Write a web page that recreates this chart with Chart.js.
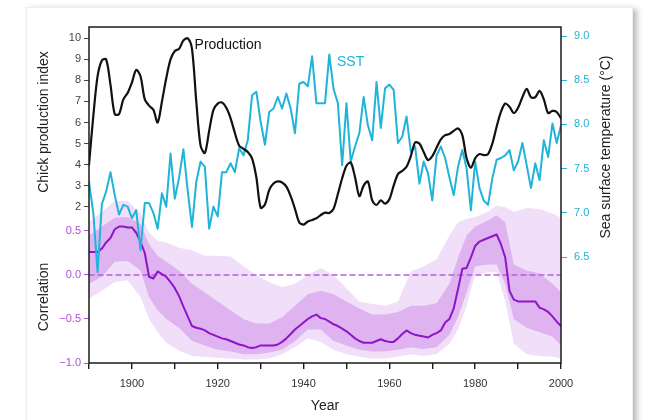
<!DOCTYPE html>
<html><head><meta charset="utf-8">
<script src="https://cdn.jsdelivr.net/npm/chart.js@4.4.0/dist/chart.umd.min.js"></script>
<style>
html,body{margin:0;padding:0;background:#fff;width:649px;height:420px;overflow:hidden;}
#card{position:absolute;left:26px;top:7px;width:605px;height:440px;background:#fff;border:1px solid #eeeeee;box-shadow:4px 2px 6px rgba(0,0,0,0.28);}
#c{position:absolute;left:0;top:0;}
</style></head><body>
<div id="card"></div>
<canvas id="c" width="649" height="420"></canvas>
<script>
const years = [1890,1891,1892,1893,1894,1895,1896,1897,1898,1899,
1900,1901,1902,1903,1904,1905,1906,1907,1908,1909,
1910,1911,1912,1913,1914,1915,1916,1917,1918,1919,
1920,1921,1922,1923,1924,1925,1926,1927,1928,1929,
1930,1931,1932,1933,1934,1935,1936,1937,1938,1939,
1940,1941,1942,1943,1944,1945,1946,1947,1948,1949,
1950,1951,1952,1953,1954,1955,1956,1957,1958,1959,
1960,1961,1962,1963,1964,1965,1966,1967,1968,1969,
1970,1971,1972,1973,1974,1975,1976,1977,1978,1979,
1980,1981,1982,1983,1984,1985,1986,1987,1988,1989,
1990,1991,1992,1993,1994,1995,1996,1997,1998,1999,2000];

const production = [4.0,6.3,8.2,8.95,9.0,7.8,6.4,6.4,7.1,7.4,
7.9,8.5,8.2,7.1,6.8,6.6,6.0,7.0,8.1,9.0,
9.4,9.5,9.9,10.0,9.5,7.0,4.9,4.55,5.6,6.6,
6.9,6.95,6.7,6.2,5.5,4.9,4.75,4.6,4.3,3.4,
1.95,2.1,2.8,3.1,3.2,3.15,2.95,2.5,1.9,1.25,
1.15,1.3,1.37,1.45,1.6,1.72,1.7,1.9,2.6,3.35,
3.95,4.1,3.4,2.5,3.0,3.2,2.3,2.08,2.3,2.15,
2.35,3.0,3.55,3.7,3.9,4.4,5.05,5.0,4.6,4.22,
4.4,4.8,5.2,5.4,5.45,5.6,5.72,5.4,4.3,3.85,
4.3,4.5,4.45,4.5,5.0,5.8,6.5,6.9,6.75,6.45,
6.7,7.2,7.6,7.2,7.2,7.5,7.1,6.45,6.55,6.5,6.2];

const sst = [7.35,7.0,6.33,7.1,7.24,7.46,7.2,6.98,7.09,7.07,
6.94,7.03,6.58,7.11,7.11,7.0,6.82,7.22,7.07,7.67,
7.16,7.4,7.72,7.25,6.84,7.35,7.58,7.52,6.82,7.07,
6.96,7.46,7.46,7.56,7.46,7.73,7.65,7.82,8.33,8.37,
8.03,7.77,8.14,8.18,8.31,8.18,8.35,8.18,7.9,8.46,
8.48,8.43,8.77,8.24,8.24,8.24,8.79,8.4,8.24,7.54,
8.24,7.58,7.75,7.9,8.31,7.99,7.82,8.48,7.96,8.41,
8.45,8.39,7.79,7.86,8.09,7.69,7.75,7.33,7.58,7.45,
7.14,7.65,7.75,7.62,7.4,7.2,7.52,7.71,7.5,7.03,
7.58,7.28,7.14,7.09,7.39,7.6,7.62,7.65,7.71,7.48,
7.58,7.79,7.54,7.28,7.56,7.37,7.82,7.63,8.01,7.79,7.99];

const correlation = [0.26,0.26,0.26,0.3,0.37,0.42,0.52,0.55,0.55,0.54,
0.54,0.48,0.38,0.25,-0.02,-0.04,0.04,0.01,-0.02,-0.08,
-0.15,-0.24,-0.36,-0.47,-0.58,-0.6,-0.61,-0.63,-0.66,-0.68,
-0.7,-0.72,-0.73,-0.75,-0.77,-0.79,-0.8,-0.82,-0.83,-0.82,
-0.8,-0.8,-0.8,-0.8,-0.79,-0.76,-0.72,-0.67,-0.62,-0.58,
-0.54,-0.5,-0.47,-0.45,-0.49,-0.5,-0.53,-0.56,-0.58,-0.61,
-0.64,-0.68,-0.72,-0.75,-0.77,-0.77,-0.77,-0.75,-0.73,-0.75,
-0.76,-0.76,-0.72,-0.67,-0.63,-0.66,-0.68,-0.69,-0.7,-0.71,
-0.68,-0.66,-0.63,-0.54,-0.5,-0.38,-0.16,0.07,0.08,0.2,
0.33,0.38,0.4,0.42,0.44,0.46,0.35,0.2,-0.18,-0.28,
-0.3,-0.3,-0.3,-0.3,-0.3,-0.37,-0.39,-0.42,-0.47,-0.53,-0.58];

const bandYears = [1890,1893,1896,1899,1902,1904,1906,1908,1911,1914,1917,1920,1923,1926,1929,1932,1935,1938,1941,1944,1947,1950,1953,1956,1959,1962,1965,1968,1971,1974,1976,1978,1980,1983,1985,1987,1989,1992,1995,1998,2000];
const corrOuterUpper = [0.6,0.72,0.84,0.84,0.7,0.48,0.39,0.37,0.31,0.28,0.22,0.22,0.21,0.1,0.0,-0.08,-0.14,-0.1,0.0,0.08,0.0,-0.15,-0.3,-0.33,-0.35,-0.3,0.04,0.1,0.18,0.45,0.6,0.64,0.66,0.72,0.79,0.77,0.72,0.76,0.75,0.7,0.65];
const corrInnerUpper = [0.45,0.55,0.65,0.66,0.58,0.35,0.22,0.15,0.05,-0.1,-0.2,-0.3,-0.4,-0.5,-0.55,-0.55,-0.48,-0.35,-0.22,-0.18,-0.22,-0.3,-0.38,-0.45,-0.45,-0.42,-0.35,-0.35,-0.32,-0.1,0.2,0.45,0.55,0.62,0.68,0.6,0.12,0.05,0.02,-0.1,-0.2];
const corrInnerLower = [-0.1,-0.02,0.15,0.16,0.05,-0.25,-0.4,-0.5,-0.6,-0.75,-0.8,-0.85,-0.87,-0.9,-0.9,-0.88,-0.85,-0.75,-0.62,-0.62,-0.75,-0.8,-0.85,-0.87,-0.87,-0.85,-0.82,-0.84,-0.82,-0.68,-0.48,-0.2,0.1,0.12,0.12,-0.1,-0.5,-0.6,-0.65,-0.7,-0.8];
const corrOuterLower = [-0.27,-0.18,-0.08,-0.06,-0.25,-0.5,-0.65,-0.77,-0.86,-0.92,-0.93,-0.94,-0.95,-0.96,-0.96,-0.95,-0.9,-0.82,-0.72,-0.76,-0.85,-0.9,-0.93,-0.95,-0.95,-0.93,-0.9,-0.92,-0.9,-0.78,-0.62,-0.35,0.0,0.03,0.03,-0.3,-0.78,-0.9,-0.92,-0.93,-0.95];
const zeroRef = 0;

const xTickLabels = [1900,1920,1940,1960,1980,2000];
const prodTicks = [2,3,4,5,6,7,8,9,10];
const sstTicks = [6.5,7.0,7.5,8.0,8.5,9.0];
const corrTicks = [-1.0,-0.5,0.0,0.5];

const FONT = '"Liberation Sans", Arial, Helvetica, sans-serif';
Chart.defaults.font.family = FONT;

const pts = (xs, ys) => xs.map((x, i) => ({x: x, y: ys[i]}));

const C_SST = '#1fb4d8', C_CORR = '#8c16c8', C_CORRTXT = '#b04fd6';
const corrLabel = v => v < 0 ? '\u2212' + Math.abs(v).toFixed(1) : v.toFixed(1);

const textPlugin = {
  id: 'texts',
  afterDraw(chart) {
    const {ctx, chartArea: a, scales} = chart;
    ctx.save();
    ctx.strokeStyle = '#1a1a1a';
    ctx.lineWidth = 1.5;
    ctx.strokeRect(a.left, a.top, a.right - a.left, a.bottom - a.top);
    // correlation tick labels, positioned by the yCorr scale
    ctx.font = '11px ' + FONT;
    ctx.fillStyle = C_CORRTXT;
    ctx.textAlign = 'right';
    ctx.textBaseline = 'middle';
    corrTicks.forEach(v => ctx.fillText(corrLabel(v), a.left - 8, scales.yCorr.getPixelForValue(v)));
    ctx.font = '14px ' + FONT;
    ctx.textAlign = 'left';
    ctx.fillStyle = '#111';
    ctx.fillText('Production', scales.x.getPixelForValue(1914.6), scales.yProd.getPixelForValue(9.68));
    ctx.fillStyle = C_SST;
    ctx.fillText('SST', scales.x.getPixelForValue(1947.8), scales.ySST.getPixelForValue(8.70));
    ctx.fillStyle = '#222';
    ctx.textAlign = 'center';
    ctx.fillText('Year', (a.left + a.right) / 2, 406);
    const rot = (t, x, y) => { ctx.save(); ctx.translate(x, y); ctx.rotate(-Math.PI / 2); ctx.fillText(t, 0, 0); ctx.restore(); };
    rot('Chick production index', 44, 122);
    rot('Correlation', 44, 297);
    rot('Sea surface temperature (\u00B0C)', 606, 147);
    ctx.restore();
  }
};

new Chart(document.getElementById('c'), {
  type: 'line',
  data: {
    datasets: [
      {label: 'outer upper', data: pts(bandYears, corrOuterUpper), yAxisID: 'yCorr', borderWidth: 0, pointRadius: 0, fill: {target: 3}, backgroundColor: '#f1dff9', order: 20},
      {label: 'inner upper', data: pts(bandYears, corrInnerUpper), yAxisID: 'yCorr', borderWidth: 0, pointRadius: 0, fill: {target: 2}, backgroundColor: '#dfb3f0', order: 19},
      {label: 'inner lower', data: pts(bandYears, corrInnerLower), yAxisID: 'yCorr', borderWidth: 0, pointRadius: 0, fill: false, order: 18},
      {label: 'outer lower', data: pts(bandYears, corrOuterLower), yAxisID: 'yCorr', borderWidth: 0, pointRadius: 0, fill: false, order: 17},
      {label: 'zero', data: [{x: years[0], y: zeroRef}, {x: years[years.length - 1], y: zeroRef}], yAxisID: 'yCorr', borderColor: '#b45ee0', borderWidth: 1.4, borderDash: [5, 4], pointRadius: 0, fill: false, order: 10},
      {label: 'Correlation', data: pts(years, correlation), yAxisID: 'yCorr', borderColor: C_CORR, borderWidth: 2, pointRadius: 0, fill: false, order: 5},
      {label: 'SST', data: pts(years, sst), yAxisID: 'ySST', borderColor: C_SST, borderWidth: 2, pointRadius: 0, fill: false, order: 4},
      {label: 'Production', data: pts(years, production), yAxisID: 'yProd', borderColor: '#111', borderWidth: 2.2, pointRadius: 0, fill: false, order: 3, tension: 0.3}
    ]
  },
  options: {
    responsive: false,
    animation: false,
    events: [],
    layout: {padding: {left: 59, right: 58, top: 27, bottom: 32}},
    plugins: {legend: {display: false}, tooltip: {enabled: false}},
    elements: {line: {tension: 0, borderJoinStyle: 'round', borderCapStyle: 'round'}},
    scales: {
      x: {
        type: 'linear', position: 'bottom', min: 1890, max: 2000,
        afterFit: s => { s.height = 25; },
        ticks: {stepSize: 10, autoSkip: false, maxRotation: 0, padding: 8, color: '#333', font: {size: 11},
          callback: v => xTickLabels.includes(v) ? String(v) : ''},
        grid: {drawOnChartArea: false, drawTicks: true, tickLength: 6, color: '#1a1a1a', lineWidth: 1.4},
        border: {display: false}
      },
      yCorr: {
        type: 'linear', position: 'left', weight: 0, min: -1.0, max: 2.818,
        afterFit: s => { s.width = 0; },
        afterBuildTicks: s => { s.ticks = corrTicks.map(v => ({value: v})); },
        ticks: {display: false},
        grid: {drawOnChartArea: false, drawTicks: true, tickLength: 5, color: C_CORRTXT, lineWidth: 1},
        border: {display: false}
      },
      yProd: {
        type: 'linear', position: 'left', weight: 1, min: -5.425, max: 10.537,
        afterFit: s => { s.width = 30; },
        afterBuildTicks: s => { s.ticks = prodTicks.map(v => ({value: v})); },
        ticks: {color: '#444', font: {size: 11}, padding: 3, callback: v => String(v)},
        grid: {drawOnChartArea: false, drawTicks: true, tickLength: 5, color: '#444', lineWidth: 1},
        border: {display: false}
      },
      ySST: {
        type: 'linear', position: 'right', min: 5.301, max: 9.102,
        afterFit: s => { s.width = 30; },
        afterBuildTicks: s => { s.ticks = sstTicks.map(v => ({value: v})); },
        ticks: {color: C_SST, font: {size: 11}, padding: 7, callback: v => v.toFixed(1)},
        grid: {drawOnChartArea: false, drawTicks: true, tickLength: 6, color: C_SST, lineWidth: 1},
        border: {display: false}
      }
    }
  },
  plugins: [textPlugin]
});
</script>
</body></html>
